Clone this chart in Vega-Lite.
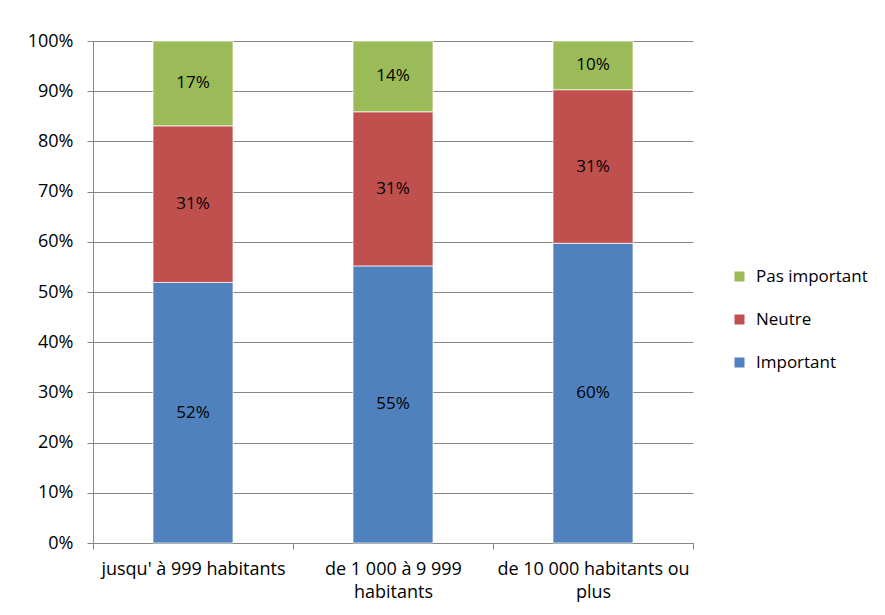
{
  "$schema": "https://vega.github.io/schema/vega-lite/v6.json",
  "width": 600,
  "height": 502,
  "autosize": "none",
  "padding": {"left": 93, "top": 41, "right": 192, "bottom": 72},
  "background": "white",
  "config": {
    "font": "Open Sans",
    "view": {"stroke": null},
    "axis": {
      "labelFont": "Open Sans",
      "labelFontSize": 18,
      "labelColor": "#000000",
      "domainColor": "#868686",
      "tickColor": "#868686",
      "gridColor": "#868686",
      "domainWidth": 1,
      "tickWidth": 1,
      "gridWidth": 1
    },
    "legend": {"labelFont": "Open Sans", "labelFontSize": 17, "labelColor": "#000000"}
  },
  "data": {
    "values": [
      {"taille": "jusqu' à 999 habitants", "categorie": "Important", "part": 0.519},
      {"taille": "jusqu' à 999 habitants", "categorie": "Neutre", "part": 0.312},
      {"taille": "jusqu' à 999 habitants", "categorie": "Pas important", "part": 0.169},
      {"taille": "de 1 000 à 9 999 habitants", "categorie": "Important", "part": 0.552},
      {"taille": "de 1 000 à 9 999 habitants", "categorie": "Neutre", "part": 0.307},
      {"taille": "de 1 000 à 9 999 habitants", "categorie": "Pas important", "part": 0.141},
      {"taille": "de 10 000 habitants ou plus", "categorie": "Important", "part": 0.597},
      {"taille": "de 10 000 habitants ou plus", "categorie": "Neutre", "part": 0.306},
      {"taille": "de 10 000 habitants ou plus", "categorie": "Pas important", "part": 0.097}
    ]
  },
  "encoding": {
    "x": {
      "field": "taille",
      "type": "nominal",
      "sort": null,
      "scale": {"paddingInner": 0, "paddingOuter": 0},
      "axis": {
        "title": null,
        "labelAngle": 0,
        "tickBand": "extent",
        "tickSize": 6,
        "labelPadding": 11,
        "labelLineHeight": 23,
        "labelBaseline": "top",
        "labelOverlap": false,
        "labelLimit": 400,
        "labelExpr": "datum.value == 'de 1 000 à 9 999 habitants' ? ['de 1 000 à 9 999', 'habitants'] : datum.value == 'de 10 000 habitants ou plus' ? ['de 10 000 habitants ou', 'plus'] : datum.value"
      }
    }
  },
  "layer": [
    {
      "mark": {"type": "bar", "width": {"band": 0.4}, "stroke": "#ffffff", "strokeWidth": 0.7},
      "encoding": {
        "y": {
          "field": "part",
          "type": "quantitative",
          "stack": "zero",
          "scale": {"domain": [0, 1]},
          "axis": {
            "title": null,
            "format": ".0%",
            "values": [0, 0.1, 0.2, 0.3, 0.4, 0.5, 0.6, 0.7, 0.8, 0.9, 1],
            "labelOverlap": false,
            "grid": true,
            "tickSize": 6,
            "labelPadding": 14
          }
        },
        "color": {
          "field": "categorie",
          "type": "nominal",
          "sort": "descending",
          "scale": {
            "domain": ["Pas important", "Neutre", "Important"],
            "range": ["#9BBB59", "#C0504D", "#4F81BD"]
          },
          "legend": {
            "title": null,
            "orient": "none",
            "legendX": 638,
            "legendY": 227,
            "symbolType": "square",
            "symbolSize": 100,
            "symbolStrokeWidth": 0,
            "rowPadding": 25,
            "labelOffset": 8
          }
        },
        "order": {"field": "categorie", "sort": "ascending"}
      }
    },
    {
      "mark": {"type": "text", "fontSize": 17, "font": "Open Sans", "color": "#000000", "baseline": "middle"},
      "encoding": {
        "y": {"field": "part", "type": "quantitative", "stack": "zero", "bandPosition": 0.5},
        "text": {"field": "part", "type": "quantitative", "format": ".0%"},
        "order": {"field": "categorie", "sort": "ascending"},
        "detail": {"field": "categorie"}
      }
    }
  ]
}
